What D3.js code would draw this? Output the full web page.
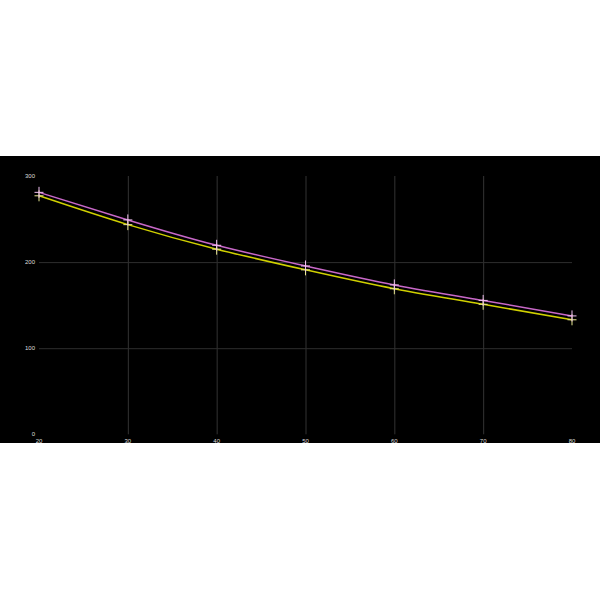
<!DOCTYPE html>
<html>
<head>
<meta charset="utf-8">
<script src="https://cdn.jsdelivr.net/npm/d3@7"></script>
<style>
  body { margin: 0; background: #fff; }
  svg { display: block; }
</style>
</head>
<body>
<div class="chart"></div>
<script>
// values
const xValues = [20, 30, 40, 50, 60, 70, 80]
const pinkSeries = [281, 249, 219.5, 195.5, 173.5, 155.5, 137.5]
const yellowSeries = [277, 243.5, 215, 191, 169, 151, 133]
const xTicks = [20, 30, 40, 50, 60, 70, 80]
const yTicks = [0, 100, 200, 300]

const width = 600
const height = 600
const panel = {top: 156, bottom: 443}

const svg = d3.select(".chart")
    .append("svg")
    .attr("width", width)
    .attr("height", height)

svg.append("rect")
    .attr("x", 0)
    .attr("y", panel.top)
    .attr("width", width)
    .attr("height", panel.bottom - panel.top)
    .attr("fill", "#000")

const xScale = d3.scaleLinear()
    .domain([20, 80])
    .range([39, 572])

const yScale = d3.scaleLinear()
    .domain([0, 300])
    .range([434.3, 176])

// grid, only inner lines
svg.append("g")
    .selectAll("line")
    .data(xTicks.slice(1, -1))
    .join("line")
    .attr("x1", d => xScale(d) + 0.5)
    .attr("x2", d => xScale(d) + 0.5)
    .attr("y1", yScale(300))
    .attr("y2", yScale(0))
    .attr("stroke", "#333")
    .attr("stroke-width", 1)

svg.append("g")
    .selectAll("line")
    .data(yTicks.slice(1, -1))
    .join("line")
    .attr("x1", xScale(20))
    .attr("x2", xScale(80))
    .attr("y1", d => yScale(d) + 0.5)
    .attr("y2", d => yScale(d) + 0.5)
    .attr("stroke", "#2e2e2e")
    .attr("stroke-width", 1)

// tick labels
svg.append("g")
    .selectAll("text")
    .data(yTicks)
    .join("text")
    .attr("x", 35)
    .attr("y", d => yScale(d))
    .attr("dy", "0.35em")
    .attr("text-anchor", "end")
    .attr("font-family", "Liberation Sans")
    .attr("font-size", 6)
    .attr("fill", "#ddd")
    .text(d => d)

svg.append("g")
    .selectAll("text")
    .data(xTicks)
    .join("text")
    .attr("x", d => xScale(d))
    .attr("y", 441)
    .attr("dy", "0.35em")
    .attr("text-anchor", "middle")
    .attr("font-family", "Liberation Sans")
    .attr("font-size", 6)
    .attr("fill", "#ddd")
    .text(d => d)

function drawSeries(values, lineColor, markColor) {
    const pts = xValues.map((x, i) => ({x: x, y: values[i]}))

    const line = d3.line()
        .curve(d3.curveNatural)
        .x(d => xScale(d.x))
        .y(d => yScale(d.y))

    svg.append("path")
        .datum(pts)
        .attr("fill", "none")
        .attr("stroke", lineColor)
        .attr("stroke-width", 1.5)
        .attr("d", line)

    const marks = svg.append("g")
        .selectAll("g")
        .data(pts)
        .join("g")
        .attr("transform", d => `translate(${xScale(d.x)},${yScale(d.y)})`)

    marks.append("line")
        .attr("x1", -4.5).attr("x2", 4.5)
        .attr("y1", 0).attr("y2", 0)
        .attr("stroke", markColor)
        .attr("stroke-width", 1)

    marks.append("line")
        .attr("x1", 0).attr("x2", 0)
        .attr("y1", -5.5).attr("y2", 5.5)
        .attr("stroke", markColor)
        .attr("stroke-width", 1)
}

drawSeries(yellowSeries, "#d0d000", "#e8e890")
drawSeries(pinkSeries, "#c868c8", "#f0c0f0")
</script>
</body>
</html>
